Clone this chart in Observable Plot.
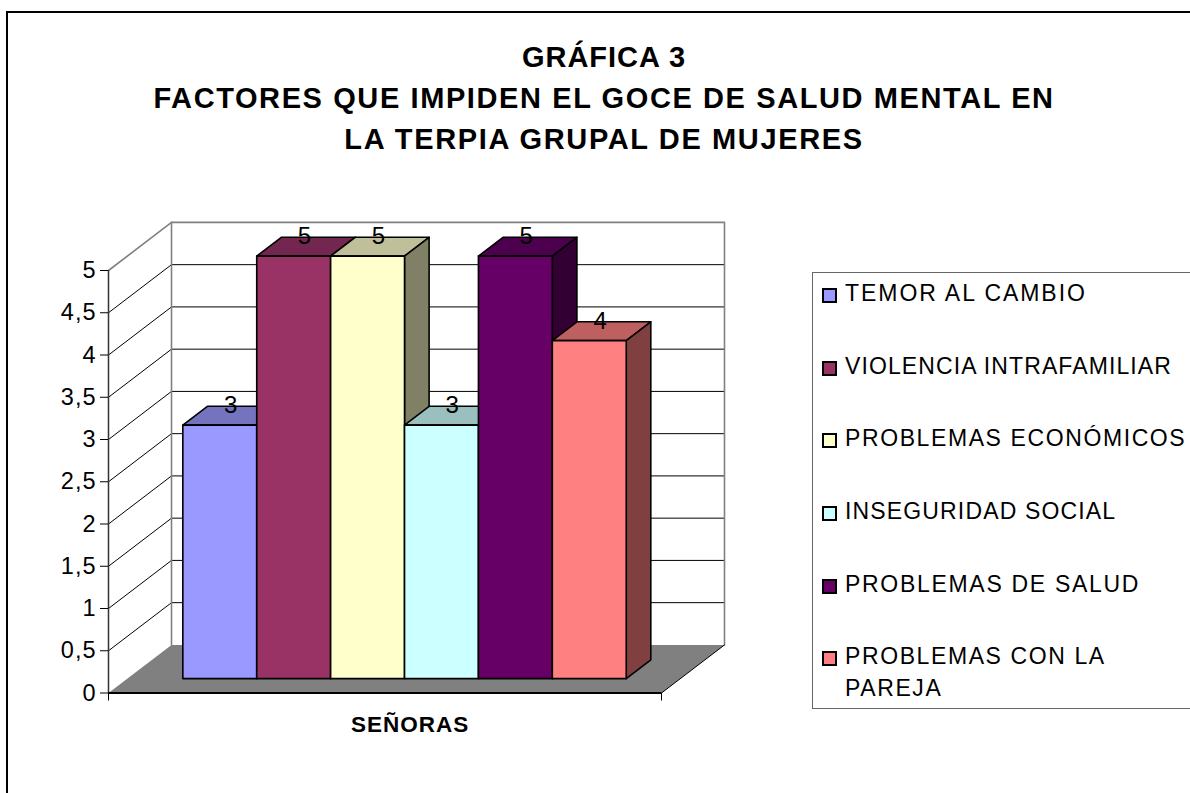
<!DOCTYPE html>
<html>
<head>
<meta charset="utf-8">
<script src="https://cdn.jsdelivr.net/npm/d3@7"></script>
<script src="https://cdn.jsdelivr.net/npm/@observablehq/plot@0.6"></script>
<style>
html,body{margin:0;padding:0;background:#fff;width:1190px;height:793px;overflow:hidden;font-family:"Liberation Sans",Arial,sans-serif;color:#000}
#frame{position:absolute;left:6px;top:11px;width:1300px;height:900px;border:2px solid #000;box-sizing:border-box}
#title{position:absolute;left:0;top:36.5px;width:1208px;text-align:center;font-weight:bold;font-size:29px;line-height:41px;white-space:nowrap}
#chart{position:absolute;left:0;top:0}
#legend{position:absolute;left:812px;top:272px;width:500px;height:437px;border:1.5px solid #666;box-sizing:border-box}
.item{position:absolute;left:32px;font-size:23px;line-height:31.5px;white-space:pre}
.swatch{position:absolute;left:8.5px;width:15.5px;height:15.5px;border:2px solid #000;box-sizing:border-box}
</style>
</head>
<body>
<div id="frame"></div>
<div id="title"></div>
<div id="chart"></div>
<div id="legend"></div>
<script>
const titleLines = ["GRÁFICA 3", "FACTORES QUE IMPIDEN EL GOCE DE SALUD MENTAL EN", "LA TERPIA GRUPAL DE MUJERES"];
const titleSpacing = [1, 1.6, 1.63];
const categories = ["TEMOR AL CAMBIO", "VIOLENCIA INTRAFAMILIAR", "PROBLEMAS ECONÓMICOS", "INSEGURIDAD SOCIAL", "PROBLEMAS DE SALUD", "PROBLEMAS CON LA\nPAREJA"];
const legendSpacing = [1.95, 1.1, 1.6, 1.15, 1.7, 1.6];
const legendCenters = [293, 366, 438, 511, 584, 656];
const values = [3, 5, 5, 3, 5, 4];
const fronts = ["#9999FF", "#993366", "#FFFFCC", "#CCFFFF", "#660066", "#FF8080"];
const tops = ["#7373BF", "#732650", "#BFBF99", "#99BFBF", "#4D004D", "#BF6060"];
const sides = ["#4D4D80", "#4D1A33", "#808066", "#668080", "#330033", "#804040"];
const yTicks = [0, 0.5, 1, 1.5, 2, 2.5, 3, 3.5, 4, 4.5, 5];
const groupLabel = "SEÑORAS";

// Oblique projection: x in bar-widths, y in value units, d = depth from 0 (front) to 1 (back wall)
const floorW = 7.483, depthX = 0.8525, depthY = 0.569;
const barStart = 0.75, barD0 = 0.30, barD1 = 0.69;
const P = (x, v, d) => ({x: x + d * depthX, y: v + d * depthY});
const poly = (pts, o) => Plot.line(pts.map(p => P(...p)), {x: "x", y: "y", ...o});

const marks = [];
const wall = {fill: "#fff", stroke: "none"};
marks.push(poly([[0,0,0],[0,5,0],[0,5,1],[floorW,5,1],[floorW,0,1],[0,0,1],[0,0,0]], wall));
marks.push(poly([[0,0,0],[floorW,0,0],[floorW,0,1],[0,0,1],[0,0,0]], {fill: "#808080", stroke: "none"}));
// gridlines on both walls
yTicks.filter(v => v > 0 && v < 5).forEach(v => {
  marks.push(poly([[0,v,0],[0,v,1],[floorW,v,1]], {stroke: "#000", strokeWidth: 1}));
});
// wall edges
marks.push(poly([[0,5,0],[0,5,1],[floorW,5,1],[floorW,0,1]], {stroke: "#808080", strokeWidth: 1.6}));
marks.push(poly([[0,0,1],[0,5,1]], {stroke: "#808080", strokeWidth: 1.6}));
marks.push(poly([[floorW,0,0],[floorW,0,1]], {stroke: "#000", strokeWidth: 1}));
// bars
values.forEach((v, i) => {
  const a = barStart + i, b = a + 1;
  const s = {stroke: "#000", strokeWidth: 1.6};
  marks.push(poly([[a,v,barD0],[b,v,barD0],[b,v,barD1],[a,v,barD1],[a,v,barD0]], {fill: tops[i], ...s}));
  marks.push(poly([[b,0,barD0],[b,0,barD1],[b,v,barD1],[b,v,barD0],[b,0,barD0]], {fill: sides[i], ...s}));
  marks.push(poly([[a,0,barD0],[b,0,barD0],[b,v,barD0],[a,v,barD0],[a,0,barD0]], {fill: fronts[i], ...s}));
});
// value labels at the centre of each bar's top, on the back edge
marks.push(Plot.text(values.map((v, i) => {
  const c = P(barStart + i + 0.5, v, (barD0 + barD1) / 2), e = P(0, v, barD1);
  return {x: c.x, y: e.y, t: String(v)};
}), {x: "x", y: "y", text: "t", fontSize: 24, dy: -1, dx: -1, fill: "#000", fontFamily: "Liberation Sans"}));
// axes
marks.push(Plot.ruleX([0], {y1: 0, y2: 5, stroke: "#333", strokeWidth: 1.5}));
marks.push(Plot.ruleY([0], {x1: 0, x2: floorW, stroke: "#000", strokeWidth: 2}));
marks.push(Plot.axisY({ticks: yTicks, anchor: "left", tickSize: 8, tickPadding: 4, fontSize: 23.5, label: null,
  tickFormat: d => String(d).replace(".", ","), fontFamily: "Liberation Sans"}));
marks.push(Plot.axisX({ticks: [0, floorW], anchor: "bottom", tickSize: 8, tickFormat: () => "", label: null}));
marks.push(Plot.text([groupLabel], {x: P(floorW / 2, 0, 0.4).x, y: 0, dy: 32, text: d => d, fontSize: 22.5, fontWeight: "bold", fill: "#000", fontFamily: "Liberation Sans"}));

const chart = Plot.plot({
  width: 1190, height: 793,
  marginLeft: 108, marginRight: 529, marginTop: 270, marginBottom: 100.5,
  x: {domain: [0, floorW], axis: null},
  y: {domain: [0, 5], axis: null},
  style: {background: "transparent", overflow: "visible", fontFamily: "Liberation Sans"},
  marks
});
d3.select(chart).selectAll("text").style("letter-spacing", "1px");
document.getElementById("chart").append(chart);
document.getElementById("title").innerHTML = titleLines.map((t, i) => `<div style="letter-spacing:${titleSpacing[i]}px">${t}</div>`).join("");

const lg = document.getElementById("legend");
categories.forEach((c, i) => {
  const sw = document.createElement("div");
  sw.className = "swatch";
  sw.style.background = fronts[i];
  sw.style.top = (legendCenters[i] - 272 - 6.5) + "px";
  lg.append(sw);
  const it = document.createElement("div");
  it.className = "item";
  it.textContent = c;
  it.style.letterSpacing = legendSpacing[i] + "px";
  it.style.top = (legendCenters[i] - 272 - 16) + "px";
  lg.append(it);
});
</script>
</body>
</html>
